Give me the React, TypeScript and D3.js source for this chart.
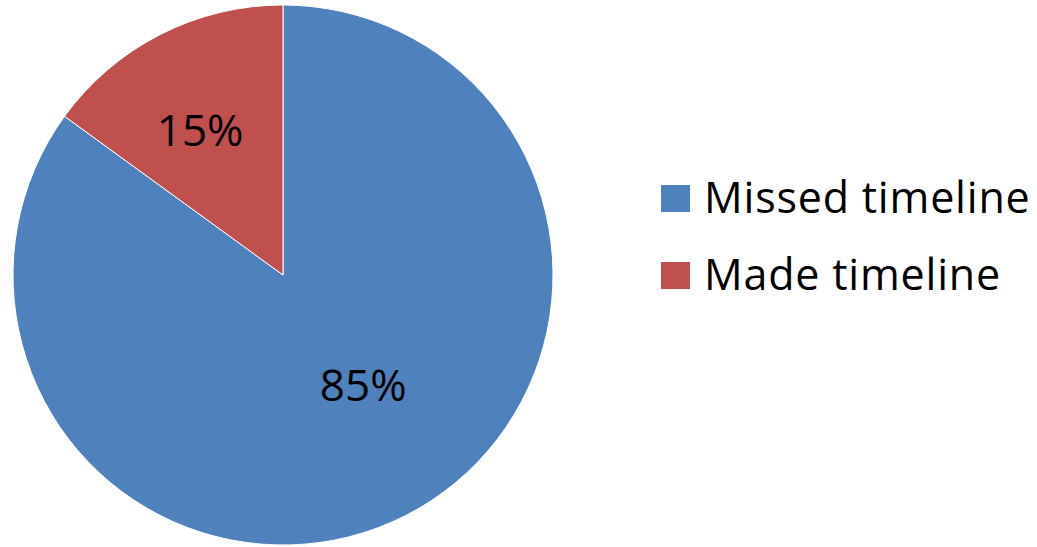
import React from "react";
import * as d3 from "d3";

const categories = ["Missed timeline", "Made timeline"];
const values = [85, 15];
const colors = ["#4F81BD", "#C0504D"];
const labels = ["85%", "15%"];

const W = 1037;
const H = 547;
const cx = 283;
const cy = 275;
const R = 270;

export default function App() {
  const arcsData = d3.pie<number>().sort(null).value((d) => d)(values);
  const arc = d3.arc<d3.PieArcDatum<number>>().innerRadius(0).outerRadius(R);
  const labelRadius = [0.50 * R, 0.622 * R];
  const labelAngleShift = [-0.165, -0.045];

  return (
    <svg
      width={W}
      height={H}
      style={{ position: "absolute", left: 0, top: 0, background: "#fff" }}
      fontFamily="'Open Sans', sans-serif"
    >
      <g transform={`translate(${cx},${cy})`}>
        {arcsData.map((d, i) => (
          <path key={i} d={arc(d) || ""} fill={colors[i]} stroke="#fff" strokeWidth={1} />
        ))}
        {arcsData.map((d, i) => {
          const a = (d.startAngle + d.endAngle) / 2 + labelAngleShift[i];
          const r = labelRadius[i];
          const x = Math.sin(a) * r;
          const y = -Math.cos(a) * r;
          return (
            <text
              key={i}
              x={x}
              y={y}
              textAnchor="middle"
              dominantBaseline="central"
              fontSize={44}
              fill="#000"
            >
              {labels[i]}
            </text>
          );
        })}
      </g>
      <g transform="translate(661,185)">
        {categories.map((c, i) => (
          <g key={c} transform={`translate(0,${i * 77})`}>
            <rect width={29} height={27} fill={colors[i]} />
            <text x={43} y={28} fontSize={43} letterSpacing={0.8} fill="#000">
              {c}
            </text>
          </g>
        ))}
      </g>
    </svg>
  );
}
